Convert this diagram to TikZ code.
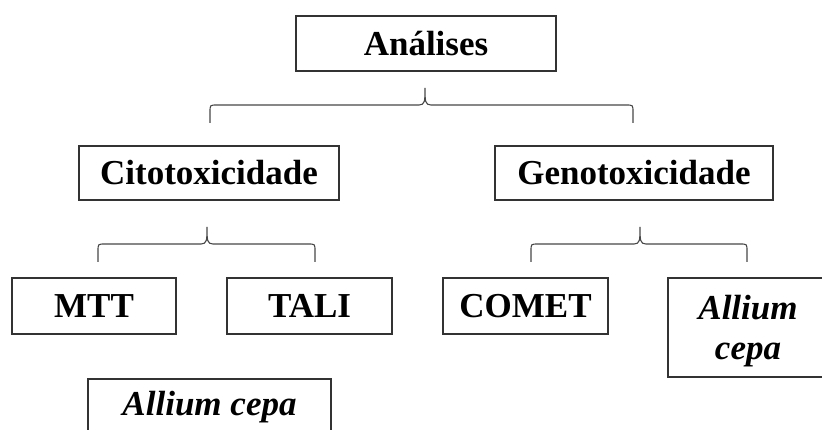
\documentclass[tikz,border=0pt]{standalone}
\usepackage{fontspec}
\setmainfont{Liberation Serif}
\newcommand\mybrace[6]{% x1, xm, x2, ytip, yh, yend
  \draw[bracestyle] (#1,#6) -- (#1,#5+7) .. controls (#1,#5) .. (#1+7,#5)
    -- (#2-6,#5) .. controls (#2,#5) and (#2,#5-4) .. (#2,#4)
    .. controls (#2,#5-4) and (#2,#5) .. (#2+6,#5)
    -- (#3-7,#5) .. controls (#3,#5) .. (#3,#5+7) -- (#3,#6);}
\begin{document}
\begin{tikzpicture}[x=1pt,y=-1pt,
  box/.style={draw=black!80, line width=1.3pt, fill=white, inner sep=0pt,
    font=\fontsize{35}{37}\selectfont\bfseries, align=center},
  ibox/.style={box, font=\fontsize{35}{40}\selectfont\bfseries\itshape},
  bracestyle/.style={draw=black!72, line width=1.1pt},
]
\useasboundingbox[fill=white] (0,0) rectangle (822,430);
\node[box, minimum width=260, minimum height=55] (an) at (426,43.5) {Análises};
\node[box, minimum width=260, minimum height=54] (cit) at (209,173) {Citotoxicidade};
\node[box, minimum width=278, minimum height=54] (gen) at (634,173) {Genotoxicidade};
\node[box, minimum width=164, minimum height=56] (mtt) at (94,306) {MTT};
\node[box, minimum width=165, minimum height=56] (tali) at (309.5,306) {TALI};
\node[box, minimum width=165, minimum height=56] (comet) at (525.5,306) {COMET};
\node[ibox, minimum width=160, minimum height=99, text depth=0pt] (ac2) at (748,327.5) {\raisebox{0pt}[0pt][0pt]{}Allium\\cepa};
\node[ibox, minimum width=243, minimum height=56] (ac1) at (209.5,407) {Allium cepa};
\mybrace{210}{425}{633}{88}{105}{123}
\mybrace{98}{207}{315}{227}{244}{262}
\mybrace{531}{640}{747}{227}{244}{262}
\end{tikzpicture}
\end{document}
